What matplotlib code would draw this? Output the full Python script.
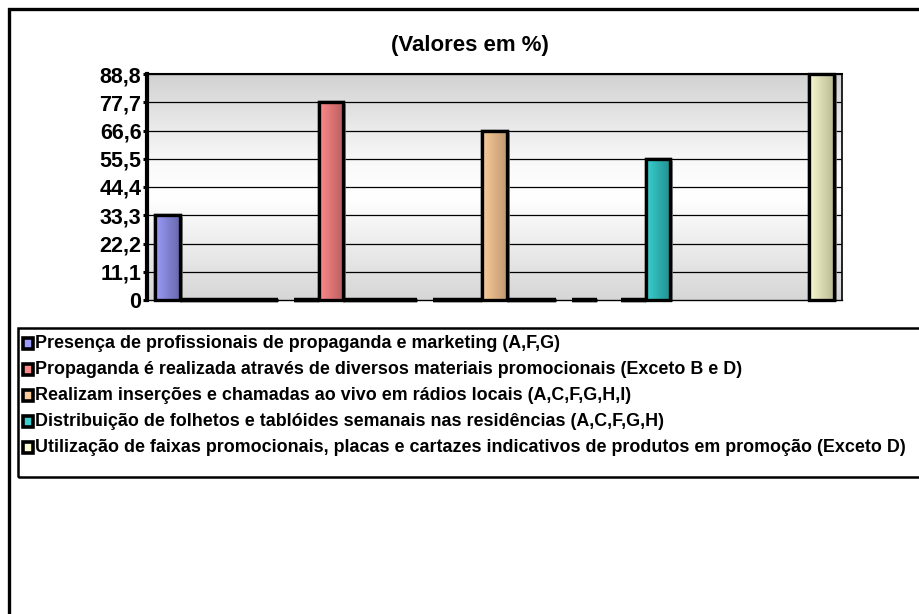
import matplotlib
matplotlib.use("Agg")
import matplotlib.pyplot as plt
import matplotlib.patheffects as pe
from matplotlib.colors import LinearSegmentedColormap
from matplotlib.patches import Rectangle
import numpy as np

plt.rcParams["font.family"] = ["Liberation Sans", "DejaVu Sans"]
plt.rcParams["font.weight"] = "bold"

TITLE = "(Valores em %)"
N_GROUPS = 5
SERIES_LABELS = [
    "Presença de profissionais de propaganda e marketing (A,F,G)",
    "Propaganda é realizada através de diversos materiais promocionais (Exceto B e D)",
    "Realizam inserções e chamadas ao vivo em rádios locais (A,C,F,G,H,I)",
    "Distribuição de folhetos e tablóides semanais nas residências (A,C,F,G,H)",
    "Utilização de faixas promocionais, placas e cartazes indicativos de produtos em promoção (Exceto D)",
]
# nan = no bar in that group
presenca = [33.3, 0, 0, 0, np.nan]
propaganda = [0, 77.7, 0, np.nan, np.nan]
radios = [0, 0, 66.6, 0, np.nan]
folhetos = [0, 0, 0, 55.5, np.nan]
faixas = [0, 0, 0, np.nan, 88.8]
SERIES = [presenca, propaganda, radios, folhetos, faixas]
LIGHT = ["#9C9CFA", "#FF8A8A", "#FACC9C", "#3AD0D0", "#FAFAD0"]
DARK = ["#6868AE", "#B85E5E", "#C09A70", "#218E8E", "#BABA94"]
YTICKS = [0, 11.1, 22.2, 33.3, 44.4, 55.5, 66.6, 77.7, 88.8]
YTICKLABELS = ["0", "11,1", "22,2", "33,3", "44,4", "55,5", "66,6", "77,7", "88,8"]

W, H = 920, 614
BAR_W = 0.177


def main():
    fig = plt.figure(figsize=(W / 100, H / 100), dpi=100)
    ax = fig.add_axes([147 / W, 1 - 300 / H, (842 - 147) / W, (300 - 74) / H])

    # plot-area background: grey at top and bottom, white in the middle
    bg = LinearSegmentedColormap.from_list(
        "bg", [(0, "#D6D6D6"), (0.45, "#FFFFFF"), (0.6, "#FAFAFA"), (1, "#D2D2D2")])
    ax.imshow(np.linspace(0, 1, 256)[:, None], cmap=bg, aspect="auto",
              extent=(0, 1, 0, 1), transform=ax.transAxes, origin="lower", zorder=0)

    ax.set_xlim(-0.5, N_GROUPS - 0.5)
    ax.set_ylim(0, 88.8)
    for t in YTICKS[1:]:
        ax.axhline(t, color="black", lw=0.9, zorder=1)

    x = np.arange(N_GROUPS)
    shadow = [pe.SimplePatchShadow(offset=(2.2, -1.5), shadow_rgbFace="#8C8C8C", alpha=0.8),
              pe.Normal()]
    for j, vals in enumerate(SERIES):
        vals = np.asarray(vals, dtype=float)
        pos = x + (j - 2) * BAR_W
        ok = ~np.isnan(vals)
        bars = ax.bar(pos[ok], vals[ok], width=BAR_W, color=LIGHT[j],
                      edgecolor="black", linewidth=2.4, zorder=3, clip_on=False)
        cmap = LinearSegmentedColormap.from_list("g%d" % j, [LIGHT[j], DARK[j]])
        for b in bars:
            x0, w, h = b.get_x(), b.get_width(), b.get_height()
            if h <= 0:
                # flat bar: Excel draws it as a thick black stroke on the floor
                ax.hlines(0, x0, x0 + w, color="black", lw=3.2, zorder=6,
                          clip_on=False)
                continue
            b.set_path_effects(shadow)
            im = ax.imshow(np.linspace(0, 1, 64)[None, :], cmap=cmap, aspect="auto",
                           extent=(x0, x0 + w, 0, h), zorder=4)
            im.set_clip_path(b)
            ax.add_patch(Rectangle((x0, 0), w, h, fill=False, edgecolor="black",
                                   linewidth=2.4, zorder=5))
    ax.set_xlim(-0.5, N_GROUPS - 0.5)
    ax.set_ylim(0, 88.8)

    ax.set_xticks([])
    ax.set_yticks(YTICKS)
    ax.set_yticklabels(YTICKLABELS, fontsize=15.5, fontweight="bold")
    ax.tick_params(axis="y", direction="out", length=3, width=2.2, pad=1)
    ax.spines["left"].set_linewidth(3)
    ax.spines["bottom"].set_linewidth(1.0)
    ax.spines["top"].set_linewidth(1.5)
    ax.spines["right"].set_linewidth(1.2)
    for s in ax.spines.values():
        s.set_zorder(6)

    fig.text(470 / W, 1 - 45 / H, TITLE, ha="center", va="center",
             fontsize=16, fontweight="bold")

    # outer chart frame (runs off the right and bottom edges)
    fig.patches.append(Rectangle((9.5 / W, -0.2), 1.2, 1.2 - 9.5 / H,
                                 transform=fig.transFigure, fill=False,
                                 edgecolor="black", linewidth=2.4))
    # legend box, also cut off at the right
    fig.patches.append(Rectangle((18.5 / W, 1 - 477 / H), 1.1, (477 - 328) / H,
                                 transform=fig.transFigure, fill=False,
                                 edgecolor="black", linewidth=1.8))
    for j, label in enumerate(SERIES_LABELS):
        yc = 1 - (343 + 26 * j) / H
        fig.patches.append(Rectangle((23 / W, yc - 5.5 / H), 10 / W, 11 / H,
                                     transform=fig.transFigure, facecolor=LIGHT[j],
                                     edgecolor="black", linewidth=2.6))
        fig.text(35 / W, yc, label, ha="left", va="center",
                 fontsize=12.9, fontweight="bold")

    fig.savefig("out.png", dpi=100)


if __name__ == "__main__":
    main()
